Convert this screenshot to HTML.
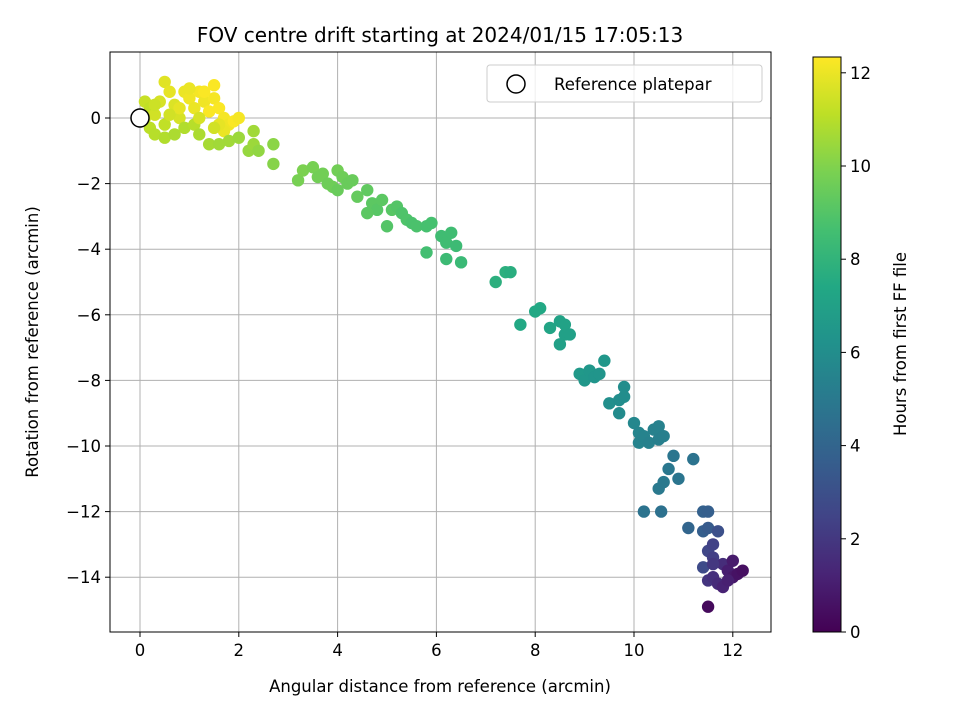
<!DOCTYPE html>
<html><head><meta charset="utf-8"><style>
body{margin:0;background:#fff}
svg text{font-family:"DejaVu Sans","Liberation Sans",sans-serif;fill:#000}
</style></head><body>
<svg id="chart" width="960" height="720" xmlns="http://www.w3.org/2000/svg">
<rect width="960" height="720" fill="#fff"/>
<g id="grid"></g>
<g id="points"></g>
<rect x="110" y="52" width="661" height="580" fill="none" stroke="#000" stroke-width="1"/>
<g id="xticks"></g>
<g id="yticks"></g>
<text x="440" y="42" font-size="20" text-anchor="middle">FOV centre drift starting at 2024/01/15 17:05:13</text>
<text x="440" y="692" font-size="16.5" text-anchor="middle">Angular distance from reference (arcmin)</text>
<text transform="translate(38,342) rotate(-90)" font-size="16.5" text-anchor="middle">Rotation from reference (arcmin)</text>
<g>
<rect x="487" y="65" width="275" height="37" rx="3" fill="#fff" fill-opacity="0.8" stroke="#ccc"/>
<circle cx="516" cy="84" r="9" fill="#fff" stroke="#000" stroke-width="1.5"/>
<text x="554" y="90" font-size="16.5">Reference platepar</text>
</g>
<defs><linearGradient id="vir" x1="0" y1="1" x2="0" y2="0">
<stop offset="0" stop-color="#440154"/><stop offset="0.1" stop-color="#482475"/><stop offset="0.2" stop-color="#414487"/><stop offset="0.3" stop-color="#355f8d"/><stop offset="0.4" stop-color="#2a788e"/><stop offset="0.5" stop-color="#21918c"/><stop offset="0.6" stop-color="#22a884"/><stop offset="0.7" stop-color="#44bf70"/><stop offset="0.8" stop-color="#7ad151"/><stop offset="0.9" stop-color="#bddf26"/><stop offset="1" stop-color="#fde725"/>
</linearGradient></defs>
<rect x="813" y="57" width="28" height="575" fill="url(#vir)" stroke="#000"/>
<g id="cticks"></g>
<text transform="translate(906,344) rotate(-90)" font-size="16.5" text-anchor="middle">Hours from first FF file</text>
</svg>
<script>
const xTicks=[0,2,4,6,8,10,12];
const yTicks=[0,-2,-4,-6,-8,-10,-12,-14];
const cTicks=[0,2,4,6,8,10,12];
const xs=[0.1,0.2,0.1,0.2,0.3,0.4,0.5,0.6,0.7,0.8,0.9,1.0,1.1,1.2,1.3,1.4,1.5,1.5,1.6,1.7,1.8,1.9,2.0,1.7,1.6,0.3,0.5,0.7,0.5,0.9,1.1,1.2,1.4,1.6,1.8,2.0,2.2,2.3,2.4,2.3,2.7,2.7,0.0,0.3,0.8,1.0,1.3,0.6,1.2,1.5,
3.2,3.3,3.5,3.7,3.8,3.9,4.0,4.1,4.2,4.3,4.4,4.6,4.7,4.8,4.9,5.0,5.1,5.2,5.3,5.4,5.5,5.6,5.8,5.8,5.9,6.1,6.2,6.2,6.3,6.4,6.5,4.6,4.0,3.6,
7.2,7.4,7.5,7.7,8.0,8.1,8.3,8.5,8.6,8.5,8.6,8.7,8.9,9.0,9.1,9.2,9.3,9.4,9.5,9.7,9.7,9.8,9.8,10.0,10.1,10.1,10.2,10.3,10.4,10.5,10.5,10.6,10.2,10.5,10.6,10.7,10.8,10.9,10.55,11.1,11.2,11.4,11.4,11.5,11.5,
11.4,11.5,11.6,11.6,11.7,11.5,11.6,11.7,11.8,11.8,11.9,12.0,12.0,12.1,12.2,11.5,11.9,11.6];
const ys=[0.5,0.3,0.0,-0.3,0.1,0.5,1.1,0.8,0.4,0.0,0.8,0.6,0.3,0.8,0.5,0.2,1.0,0.6,0.3,0.0,-0.2,-0.1,0.0,-0.4,-0.2,-0.5,-0.6,-0.5,-0.2,-0.3,-0.2,-0.5,-0.8,-0.8,-0.7,-0.6,-1.0,-0.8,-1.0,-0.4,-0.8,-1.4,0.1,0.4,0.3,0.9,0.8,0.1,0.0,-0.3,
-1.9,-1.6,-1.5,-1.7,-2.0,-2.1,-1.6,-1.8,-2.0,-1.9,-2.4,-2.2,-2.6,-2.8,-2.5,-3.3,-2.8,-2.7,-2.9,-3.1,-3.2,-3.3,-3.3,-4.1,-3.2,-3.6,-3.8,-4.3,-3.5,-3.9,-4.4,-2.9,-2.2,-1.8,
-5.0,-4.7,-4.7,-6.3,-5.9,-5.8,-6.4,-6.2,-6.6,-6.9,-6.3,-6.6,-7.8,-8.0,-7.7,-7.9,-7.8,-7.4,-8.7,-8.6,-9.0,-8.2,-8.5,-9.3,-9.6,-9.9,-9.7,-9.9,-9.5,-9.8,-9.4,-9.7,-12.0,-11.3,-11.1,-10.7,-10.3,-11.0,-12.0,-12.5,-10.4,-12.6,-12.0,-12.0,-12.5,
-13.7,-13.2,-13.0,-13.4,-12.6,-14.1,-14.0,-14.2,-13.6,-14.3,-13.8,-14.0,-13.5,-13.9,-13.8,-14.9,-14.1,-13.6];
const ts=[11.3,11.2,11.4,11.1,11.5,11.6,11.8,11.9,11.7,11.6,12.0,12.1,12.0,12.2,12.1,12.3,12.3,12.2,12.3,12.2,12.1,12.3,12.2,12.0,11.9,11.0,10.9,10.8,11.2,10.9,11.0,10.8,10.7,10.6,10.6,10.5,10.4,10.5,10.3,10.6,10.2,10.1,11.3,11.4,11.9,12.0,12.3,11.5,11.6,11.5,
9.8,9.9,9.8,9.7,9.6,9.6,9.7,9.6,9.5,9.5,9.4,9.3,9.2,9.1,9.2,9.0,9.1,9.0,8.9,8.9,8.8,8.8,8.7,8.6,8.7,8.5,8.5,8.4,8.5,8.4,8.3,9.2,9.5,9.7,
7.8,7.8,7.7,7.4,7.4,7.4,7.2,7.1,7.0,7.0,7.1,7.0,6.6,6.5,6.5,6.4,6.4,6.5,6.1,6.0,5.9,6.0,6.0,5.7,5.6,5.5,5.5,5.4,5.4,5.3,5.4,5.3,4.7,5.0,5.0,4.9,4.8,4.8,4.6,4.0,4.7,3.7,3.8,3.7,3.5,
2.8,2.6,2.4,2.3,3.0,1.9,1.7,1.5,1.6,1.2,1.0,0.8,0.9,0.6,0.5,0.3,1.1,2.0];
const NS="http://www.w3.org/2000/svg";
const X=v=>140+v*49.4, Y=v=>118-v*32.8, C=v=>632-v*46.6, VMAX=12.35;
const stops=["#440154","#482475","#414487","#355f8d","#2a788e","#21918c","#22a884","#44bf70","#7ad151","#bddf26","#fde725"].map(h=>[1,3,5].map(i=>parseInt(h.substr(i,2),16)));
function cmap(t){let f=Math.max(0,Math.min(1,t/VMAX))*10,i=Math.min(9,Math.floor(f)),r=f-i;const a=stops[i],b=stops[i+1];return `rgb(${a.map((c,k)=>Math.round(c+(b[k]-c)*r)).join(',')})`;}
function mk(tag,attrs,parent){const e=document.createElementNS(NS,tag);for(const k in attrs)e.setAttribute(k,attrs[k]);parent.appendChild(e);return e;}
const grid=document.getElementById('grid'),gx=document.getElementById('xticks'),gy=document.getElementById('yticks'),gc=document.getElementById('cticks'),gp=document.getElementById('points');
xTicks.forEach(v=>{const l=mk('line',{x1:X(v),x2:X(v),y1:52,y2:632,stroke:'#b0b0b0','stroke-width':1},grid);

mk('line',{x1:X(v),x2:X(v),y1:632,y2:637,stroke:'#000'},gx);
const t=mk('text',{x:X(v),y:656,'font-size':'16.5','text-anchor':'middle'},gx);t.textContent=v;
});
yTicks.forEach(v=>{const l=mk('line',{x1:110,x2:771,y1:Y(v),y2:Y(v),stroke:'#b0b0b0','stroke-width':1},grid);

mk('line',{x1:105,x2:110,y1:Y(v),y2:Y(v),stroke:'#000'},gy);
const t=mk('text',{x:101,y:Y(v)+6,'font-size':'16.5','text-anchor':'end'},gy);t.textContent=v===0?'0':'\u2212'+Math.abs(v);
});
cTicks.forEach(v=>{mk('line',{x1:841,x2:846,y1:C(v),y2:C(v),stroke:'#000'},gc);
const t=mk('text',{x:850,y:C(v)+6,'font-size':'16.5'},gc);t.textContent=v;
});
xs.forEach((x,i)=>{const c=mk('circle',{cx:X(x),cy:Y(ys[i]),r:6.2,fill:cmap(ts[i])},gp);
});
const ref=mk('circle',{cx:X(0),cy:Y(0),r:9,fill:'#fff',stroke:'#000','stroke-width':1.5},gp);


</script>
</body></html>
